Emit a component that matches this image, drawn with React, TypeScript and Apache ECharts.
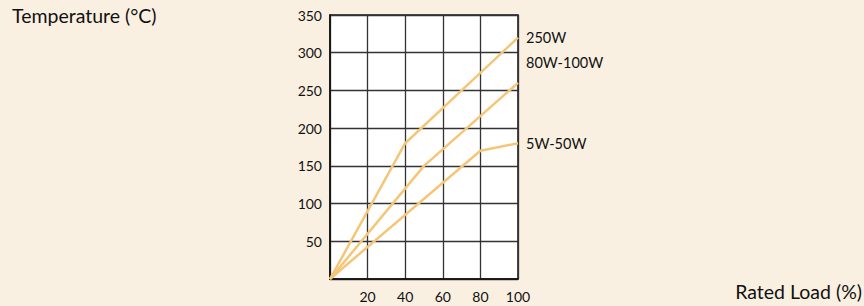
import React, { useEffect, useRef } from "react";
import * as echarts from "echarts";

const xTicks = [0, 20, 40, 60, 80, 100];
const yTicks = [0, 50, 100, 150, 200, 250, 300, 350];
const seriesNames = ["250W", "80W-100W", "5W-50W"];
const s250: [number, number][] = [[0, 0], [40, 180], [100, 320]];
const s80: [number, number][] = [[0, 0], [50, 150], [100, 260]];
const s5: [number, number][] = [[0, 0], [80, 170], [100, 180]];
const labelOffsets: [number, number][] = [[8, 0], [8, -20], [8, 0]];

const FONT = "Lato";
const LINE = "#F5C678";

export default function App() {
  const ref = useRef<HTMLDivElement>(null);
  useEffect(() => {
    if (!ref.current) return;
    const chart = echarts.init(ref.current, undefined, { renderer: "svg" });
    const data = [s250, s80, s5];
    chart.setOption({
      animation: false,
      backgroundColor: "#FAF0E2",
      textStyle: { fontFamily: FONT },
      grid: {
        left: 330, right: 346, top: 15, bottom: 27,
        show: true, backgroundColor: "#ffffff", borderColor: "#111", borderWidth: 1.5,
        containLabel: false,
      },
      graphic: [
        { type: "text", left: 12, top: 5, style: { text: "Temperature (°C)", font: `19.5px ${FONT}`, fill: "#111" } },
        { type: "text", right: 2, top: 281, style: { text: "Rated Load (%)", font: `19.5px ${FONT}`, fill: "#111" } },
      ],
      xAxis: {
        type: "value", min: xTicks[0], max: xTicks[xTicks.length - 1], interval: 20,
        axisLine: { show: true, lineStyle: { color: "#111", width: 1.5 } },
        axisTick: { show: false },
        splitLine: { show: true, lineStyle: { color: "#333", width: 1.3 } },
        axisLabel: { color: "#111", fontSize: 14, fontFamily: FONT, margin: 10, formatter: (v: number) => (v === 0 ? "" : String(v)) },
      },
      yAxis: {
        type: "value", min: yTicks[0], max: yTicks[yTicks.length - 1], interval: 50,
        axisLine: { show: true, lineStyle: { color: "#111", width: 1.5 } },
        axisTick: { show: false },
        splitLine: { show: true, lineStyle: { color: "#333", width: 1.3 } },
        axisLabel: { color: "#111", fontSize: 14, fontFamily: FONT, margin: 8, formatter: (v: number) => (v === 0 ? "" : String(v)) },
      },
      series: seriesNames.map((name, i) => ({
        name, type: "line", data: data[i], showSymbol: false, symbol: "none",
        lineStyle: { color: LINE, width: 2.5 },
        endLabel: { show: true, formatter: name, color: "#111", fontSize: 14.5, fontFamily: FONT, offset: labelOffsets[i], distance: 0 },
        silent: true, clip: false,
      })),
    });
    return () => chart.dispose();
  }, []);
  return <div ref={ref} style={{ position: "fixed", left: 0, top: 0, width: 864, height: 306 }} />;
}
